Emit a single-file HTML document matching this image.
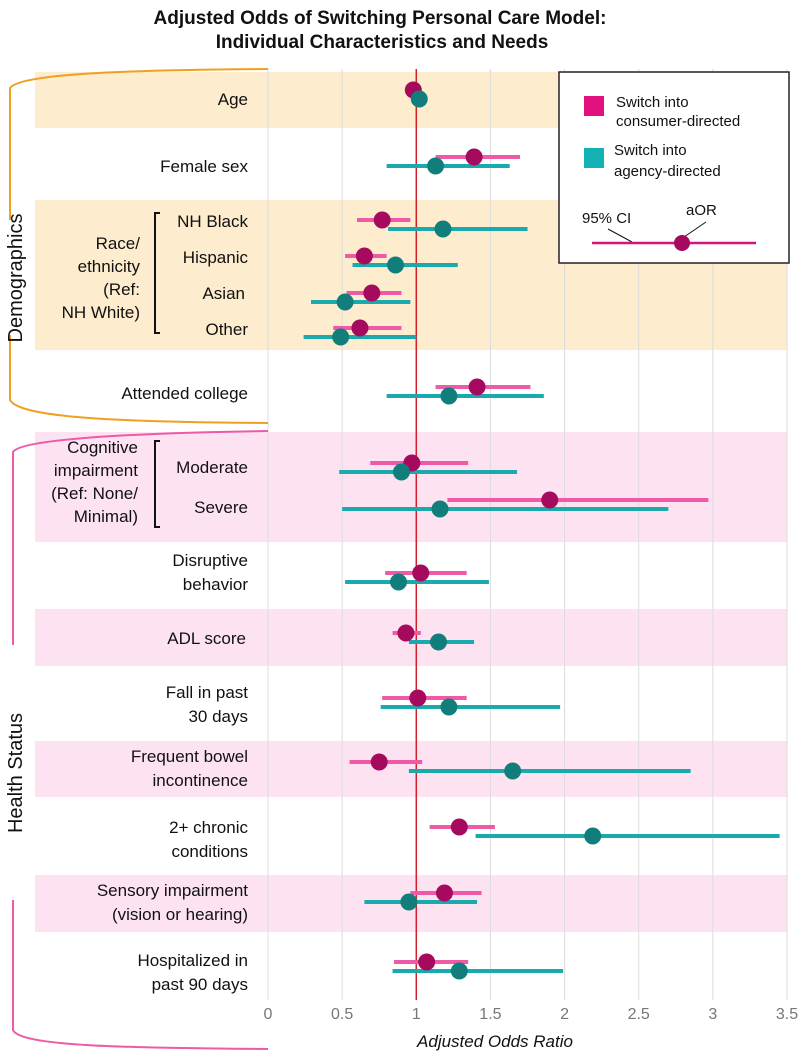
<!DOCTYPE html>
<html><head><meta charset="utf-8"><style>
body{margin:0;background:#fff;}
svg{display:block;font-family:"Liberation Sans",Arial,sans-serif;}
</style></head><body>
<svg id="chart" width="800" height="1057" viewBox="0 0 800 1057">
<g font-weight="bold" font-size="19" fill="#111" text-anchor="middle">
<text x="380" y="24">Adjusted Odds of Switching Personal Care Model:</text>
<text x="382" y="48">Individual Characteristics and Needs</text>
</g>
<g id="bands">
<rect x="35" y="72" width="752" height="56" fill="#fdeccd"/>
<rect x="35" y="200" width="752" height="150" fill="#fdeccd"/>
<rect x="35" y="432" width="752" height="110" fill="#fde3f1"/>
<rect x="35" y="609" width="752" height="57" fill="#fde3f1"/>
<rect x="35" y="741" width="752" height="56" fill="#fde3f1"/>
<rect x="35" y="875" width="752" height="57" fill="#fde3f1"/>
</g>
<g id="grid"></g>
<g id="ticks" font-size="16" fill="#777" text-anchor="middle"></g>
<text x="495" y="1047" font-size="17" font-style="italic" text-anchor="middle" fill="#111">Adjusted Odds Ratio</text>
<g fill="none" stroke-width="2">
<path d="M268,69 C120,70 20,74 10,88 L10,220 M10,335 L10,400 C20,418 120,422 268,423" stroke="#f0a020"/>
<path d="M268,431 C120,433 20,440 13,452 L13,645 M13,900 L13,1030 C20,1046 120,1048 268,1049" stroke="#ec5aa8"/>
</g>
<text transform="translate(22,278) rotate(-90)" font-size="20" text-anchor="middle" fill="#111">Demographics</text>
<text transform="translate(22,773) rotate(-90)" font-size="20" text-anchor="middle" fill="#111">Health Status</text>
<g font-size="17" fill="#111" text-anchor="end">
<text x="248" y="105">Age</text>
<text x="248" y="172">Female sex</text>
<text x="248" y="227">NH Black</text>
<text x="248" y="263">Hispanic</text>
<text x="245" y="299">Asian</text>
<text x="248" y="335">Other</text>
<text x="140" y="249">Race/</text>
<text x="140" y="272">ethnicity</text>
<text x="140" y="295">(Ref:</text>
<text x="140" y="318">NH White)</text>
<text x="248" y="399">Attended college</text>
<text x="138" y="453">Cognitive</text>
<text x="138" y="476">impairment</text>
<text x="138" y="499">(Ref: None/</text>
<text x="138" y="522">Minimal)</text>
<text x="248" y="473">Moderate</text>
<text x="248" y="513">Severe</text>
<text x="248" y="566">Disruptive</text>
<text x="248" y="590">behavior</text>
<text x="246" y="644">ADL score</text>
<text x="248" y="698">Fall in past</text>
<text x="248" y="722">30 days</text>
<text x="248" y="762">Frequent bowel</text>
<text x="248" y="786">incontinence</text>
<text x="248" y="833">2+ chronic</text>
<text x="248" y="857">conditions</text>
<text x="248" y="896">Sensory impairment</text>
<text x="248" y="920">(vision or hearing)</text>
<text x="248" y="966">Hospitalized in</text>
<text x="248" y="990">past 90 days</text>
</g>
<g fill="none" stroke="#111" stroke-width="2">
<path d="M160,213 L155,213 L155,333 L160,333"/>
<path d="M160,441 L155,441 L155,527 L160,527"/>
</g>
<line id="refline" x1="0" x2="0" y1="69" y2="1000" stroke="#d0202a" stroke-width="1.5"/>
<g id="marks"></g>
<g>
<rect x="559" y="72" width="230" height="191" fill="#fff" stroke="#222" stroke-width="1.5"/>
<rect x="584" y="96" width="20" height="20" fill="#e3117f"/>
<text x="616" y="107" font-size="15" fill="#111">Switch into</text>
<text x="616" y="126" font-size="15" fill="#111">consumer-directed</text>
<rect x="584" y="148" width="20" height="20" fill="#13b0b4"/>
<text x="614" y="155" font-size="15" fill="#111">Switch into</text>
<text x="614" y="176" font-size="15" fill="#111">agency-directed</text>
<text x="582" y="223" font-size="15" fill="#111">95% CI</text>
<text x="686" y="215" font-size="15" fill="#111">aOR</text>
<line x1="608" y1="229" x2="632" y2="242" stroke="#111" stroke-width="1"/>
<line x1="706" y1="222" x2="684" y2="237" stroke="#111" stroke-width="1"/>
<line x1="592" y1="243" x2="756" y2="243" stroke="#d4147f" stroke-width="2.5"/>
<circle cx="682" cy="243" r="8" fill="#a50a5f"/>
</g>
</svg>
<script>
const categories=["Age","Female sex","NH Black","Hispanic","Asian","Other","Attended college","Moderate","Severe","Disruptive behavior","ADL score","Fall in past 30 days","Frequent bowel incontinence","2+ chronic conditions","Sensory impairment","Hospitalized in past 90 days"];
const rowCenters=[94,161,224,260,297,332,391,467,504,577,637,702,766,831,897,966];
const consumerAOR=[0.98,1.39,0.77,0.65,0.70,0.62,1.41,0.97,1.90,1.03,0.93,1.01,0.75,1.29,1.19,1.07];
const consumerLo=[0.97,1.13,0.60,0.52,0.53,0.44,1.13,0.69,1.21,0.79,0.84,0.77,0.55,1.09,0.96,0.85];
const consumerHi=[0.99,1.70,0.96,0.80,0.90,0.90,1.77,1.35,2.97,1.34,1.03,1.34,1.04,1.53,1.44,1.35];
const agencyAOR=[1.02,1.13,1.18,0.86,0.52,0.49,1.22,0.90,1.16,0.88,1.15,1.22,1.65,2.19,0.95,1.29];
const agencyLo=[1.01,0.80,0.81,0.57,0.29,0.24,0.80,0.48,0.50,0.52,0.95,0.76,0.95,1.40,0.65,0.84];
const agencyHi=[1.03,1.63,1.75,1.28,0.96,1.00,1.86,1.68,2.70,1.49,1.39,1.97,2.85,3.45,1.41,1.99];
const tickValues=[0,0.5,1,1.5,2,2.5,3,3.5];
const tickLabels=["0","0.5","1","1.5","2","2.5","3","3.5"];
const NS="http://www.w3.org/2000/svg";
const xScale=v=>268+v*(787-268)/3.5;
function mk(tag,attrs,parent){const e=document.createElementNS(NS,tag);for(const k in attrs)e.setAttribute(k,attrs[k]);parent.appendChild(e);return e;}
const grid=document.getElementById('grid'),ticks=document.getElementById('ticks'),marks=document.getElementById('marks');
tickValues.forEach((v,i)=>{
 const g=mk('line',{x1:xScale(v),x2:xScale(v),y1:69,y2:1000,stroke:'#dcdcdc','stroke-width':1},grid);
 
 
 const t=mk('text',{x:xScale(v),y:1019},ticks);
 t.textContent=tickLabels[i];
 
 
});
const rl=document.getElementById('refline');rl.setAttribute('x1',xScale(1));rl.setAttribute('x2',xScale(1));
categories.forEach((c,i)=>{
 const yc=rowCenters[i]-4, ya=rowCenters[i]+5;
 const l1=mk('line',{x1:xScale(consumerLo[i]),x2:xScale(consumerHi[i]),y1:yc,y2:yc,stroke:'#ee5aa5','stroke-width':4},marks);
 
 
 const l2=mk('line',{x1:xScale(agencyLo[i]),x2:xScale(agencyHi[i]),y1:ya,y2:ya,stroke:'#1aa9ad','stroke-width':4},marks);
 
 
 const p1=mk('circle',{cx:xScale(consumerAOR[i]),cy:yc,r:8.5,fill:'#a50a5f'},marks);
 
 
 const p2=mk('circle',{cx:xScale(agencyAOR[i]),cy:ya,r:8.5,fill:'#127e7b'},marks);
 
 
});
</script>
</body></html>
